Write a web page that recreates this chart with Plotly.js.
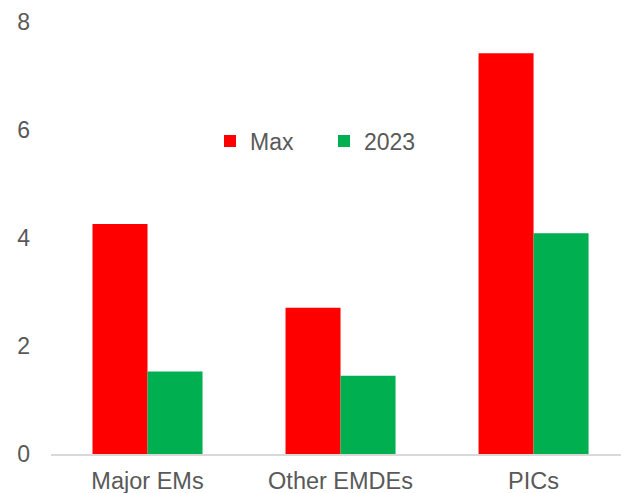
<!DOCTYPE html>
<html>
<head>
<meta charset="utf-8">
<script src="https://cdn.plot.ly/plotly-3.0.1.min.js"></script>
<style>
  html, body { margin: 0; padding: 0; background: #ffffff; }
  #chart { width: 621px; height: 493px; }
</style>
</head>
<body>
<div id="chart"></div>
<script>
// Country groups on the category axis
const categories = ["Major EMs", "Other EMDEs", "PICs"];
// Series values
const maxValues = [4.26, 2.71, 7.42];
const values2023 = [1.53, 1.45, 4.09];
// Value axis ticks
const yTicks = [0, 2, 4, 6, 8];
const yTickLabels = ["0", "2", "4", "6", "8"];

const fontFamily = "Liberation Sans, Arial, sans-serif";
const textColor = "#595959";

const traces = [
  {
    type: "bar",
    name: "Max",
    x: categories,
    y: maxValues,
    marker: { color: "#FF0000", line: { width: 0 } },
    hoverinfo: "x+y+name"
  },
  {
    type: "bar",
    name: "2023",
    x: categories,
    y: values2023,
    marker: { color: "#00B050", line: { width: 0 } },
    hoverinfo: "x+y+name"
  }
];

const layout = {
  width: 621,
  height: 493,
  margin: { l: 51, r: 0, t: 22, b: 39, pad: 0 },
  paper_bgcolor: "#ffffff",
  plot_bgcolor: "#ffffff",
  font: { family: fontFamily, size: 23, color: textColor },
  barmode: "group",
  bargap: 0.43,
  bargroupgap: 0,
  showlegend: true,
  legend: {
    orientation: "h",
    x: (210 - 51) / 570,
    xanchor: "left",
    y: (454 - 141) / 432,
    yanchor: "middle",
    bgcolor: "rgba(0,0,0,0)",
    borderwidth: 0,
    entrywidth: 69,
    font: { family: fontFamily, size: 23, color: textColor }
  },
  xaxis: {
    type: "category",
    range: [-0.5, 2.453],
    showgrid: false,
    zeroline: false,
    showline: true,
    linecolor: "#d9d9d9",
    linewidth: 2,
    ticks: "",
    ticklabelstandoff: 5,
    tickfont: { family: fontFamily, size: 23.5, color: textColor },
    fixedrange: true
  },
  yaxis: {
    range: [0, 8],
    tickvals: yTicks,
    ticktext: yTickLabels,
    showgrid: false,
    zeroline: false,
    showline: false,
    ticks: "",
    ticklabelstandoff: 20,
    tickfont: { family: fontFamily, size: 23, color: textColor },
    fixedrange: true
  }
};

Plotly.newPlot("chart", traces, layout, { displayModeBar: false, staticPlot: true });
</script>
</body>
</html>
